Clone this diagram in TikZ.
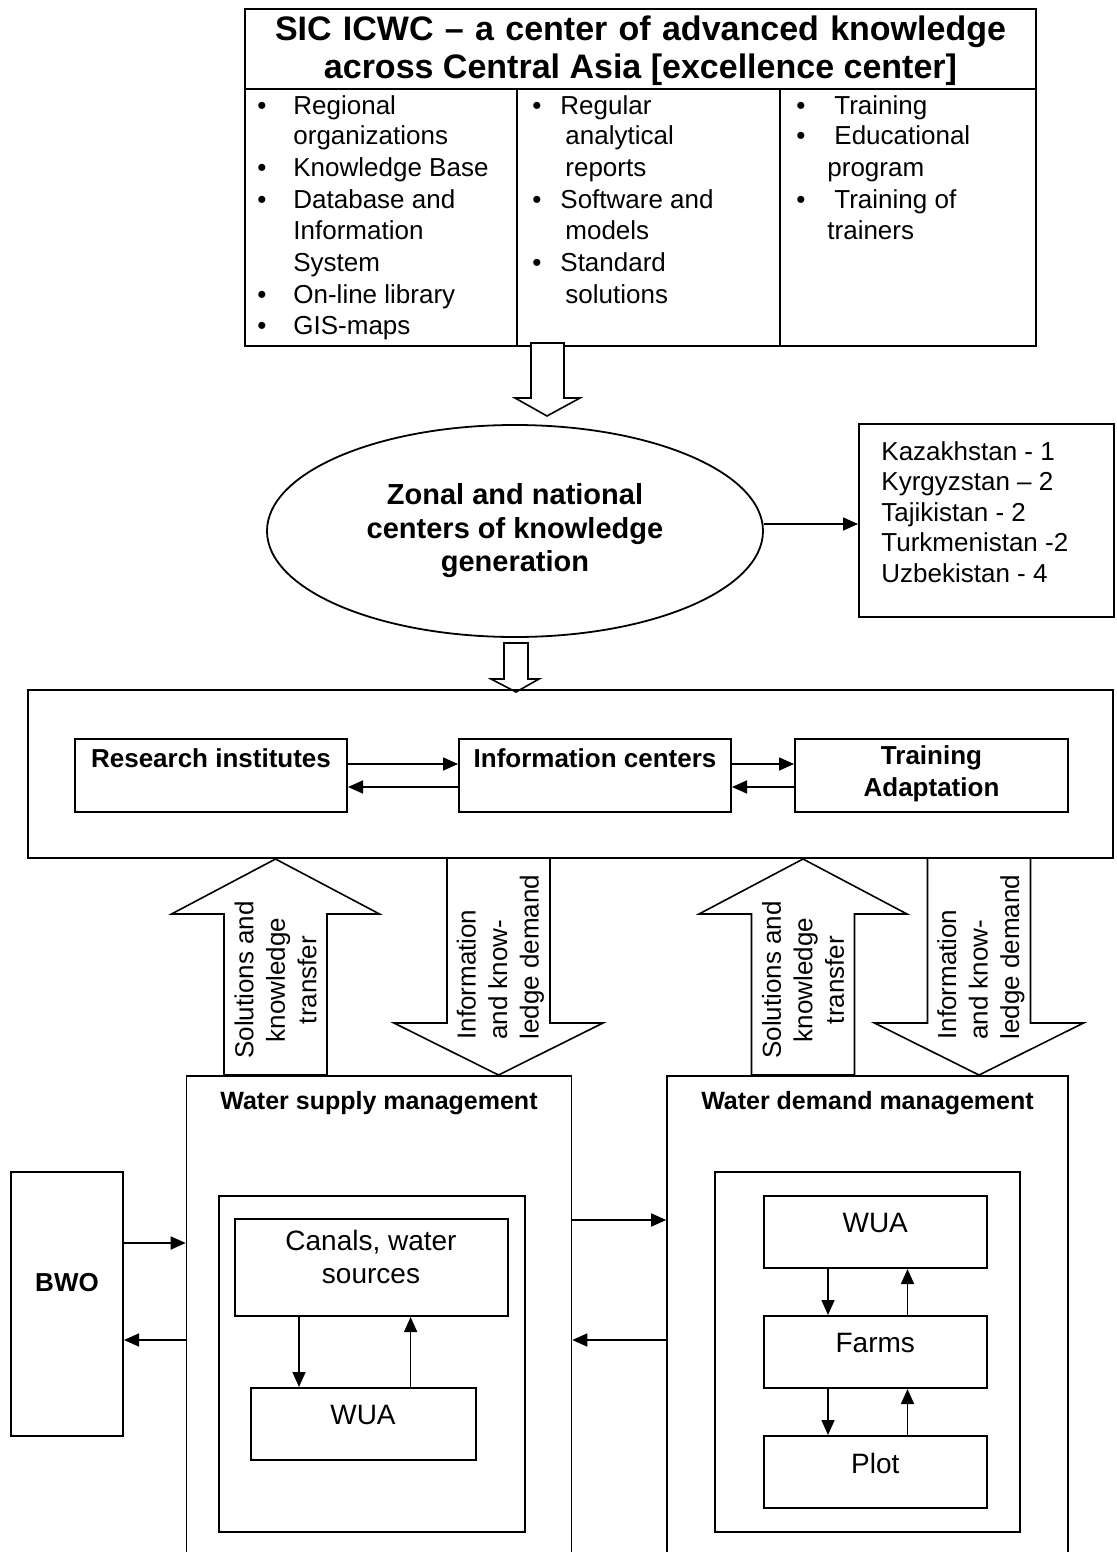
\documentclass[tikz,border=0pt]{standalone}
\usepackage{fontspec}
\setmainfont{Liberation Sans}
\usetikzlibrary{shapes.geometric,fit,arrows.meta}

\begin{document}
\begin{tikzpicture}[x=0.5pt,y=-0.5pt,
        % 方框样式: 边框颜色,线宽
        BoxNode/.style={draw, line width=1pt, inner sep=0pt},
        ThinBox/.style={draw, line width=0.8pt, inner sep=0pt},
        % 文字样式: 字号/行距
        TxtNode/.style={inner sep=0pt, font=\fontsize{13}{15.75}\selectfont},
        ListTxt/.style={inner sep=0pt, text height=9.3pt, text depth=2.7pt, font=\fontsize{13}{15.75}\selectfont},
        BoldTxt/.style={inner sep=0pt, font=\fontsize{13}{16}\selectfont\bfseries},
        HeadTxt/.style={inner sep=0pt, font=\fontsize{12.5}{15}\selectfont\bfseries},
        BigTxt/.style={inner sep=0pt, font=\fontsize{14}{16.5}\selectfont},
        TitleTxt/.style={inner sep=0pt, font=\fontsize{17}{19}\selectfont\bfseries},
        % 箭头样式
        Arr/.style={-{Triangle[length=7.5pt,width=6.5pt]}, line width=0.8pt},
        BlockArr/.style={draw, fill=white, line width=0.8pt}]

        % 画布大小
        \useasboundingbox (0,0) rectangle (1116,1552);
        \clip (0,0) rectangle (1116,1552);

        % 顶部方框: 标题 + 三列
        \node[BoxNode, fit={(245,9) (1036,346)}] (sic) {};
        \draw[line width=1pt] (sic.west |- 0,89) -- (sic.east |- 0,89);
        \foreach \x in {517,780}
            \draw[line width=1pt] (\x,89) -- (\x,346);
        \node[TitleTxt, align=center] (title) at (640.5,51)
            {\makebox[365.5pt][s]{SIC ICWC – a center of advanced knowledge}\\across Central Asia [excellence center]};

        % 第一列
        \foreach \y/\t [count=\i] in {108/Regional, 138/organizations, 170/Knowledge Base, 202/Database and,
            233/Information, 265/System, 297/On-line library, 328/GIS-maps}
            \node[ListTxt, anchor=west] (ca_\i) at (293,\y) {\t};
        % 第二列
        \foreach \x/\y/\t [count=\i] in {560/108/Regular, 565/138/analytical, 565/170/reports, 560/202/Software and,
            565/233/models, 560/265/Standard, 565/297/solutions}
            \node[ListTxt, anchor=west] (cb_\i) at (\x,\y) {\t};
        % 第三列
        \foreach \x/\y/\t [count=\i] in {834/108/Training, 834/138/Educational, 827/170/program,
            834/202/Training of, 827/233/trainers}
            \node[ListTxt, anchor=west] (cc_\i) at (\x,\y) {\t};
        % 项目符号
        \foreach \x/\y [count=\i] in {262/108, 262/170, 262/202, 262/297, 262/328,
            537/108, 537/202, 537/265, 801/108, 801/138, 801/202}
            \node[ListTxt] (dot_\i) at (\x,\y) {\textbullet};

        % 空心箭头
        \draw[BlockArr] (531,343) -- (531,398) -- (515,398) -- (547,416) -- (580,398) -- (564,398) -- (564,343) -- cycle;

        % 椭圆结点
        \node[draw, ellipse, line width=0.9pt, minimum width=248pt, minimum height=106pt, inner sep=0pt,
            align=center, font=\fontsize{14.5}{16.75}\selectfont\bfseries] (zone) at (515,531)
            {Zonal and national\\centers of knowledge\\generation};

        % 国家列表
        \node[BoxNode, fit={(859,424) (1114,617)}] (cty) {};
        \node[TxtNode, align=left, anchor=west, font=\fontsize{13}{15.2}\selectfont] (cty_t) at (881,512)
            {Kazakhstan - 1\\Kyrgyzstan – 2\\Tajikistan - 2\\Turkmenistan -2\\Uzbekistan - 4};
        \draw[Arr] ([yshift=3.5pt]zone.east) -- ([yshift=3.5pt]zone.east -| cty.west);

        \draw[BlockArr] (504,643) -- (504,679) -- (491,679) -- (516,692) -- (539,679) -- (528,679) -- (528,643) -- cycle;

        % 中间大框
        \node[BoxNode, fit={(28,690) (1113,858)}] (mid) {};
        \node[BoxNode, fit={(75,739) (347,812)}] (ri) {};
        \node[BoxNode, fit={(459,739) (731,812)}] (ic) {};
        \node[BoxNode, fit={(795,739) (1068,812)}] (ta) {};
        \node[BoldTxt] (ri_t) at (211,758) {Research institutes};
        \node[BoldTxt] (ic_t) at (595,758) {Information centers};
        \node[BoldTxt, align=center] (ta_t) at (931.5,774) {Training\\Adaptation};
        \draw[Arr] ([yshift=5.75pt]ri.east) -- ([yshift=5.75pt]ic.west);
        \draw[Arr] ([yshift=-5.75pt]ic.west) -- ([yshift=-5.75pt]ri.east);
        \draw[Arr] ([yshift=5.75pt]ic.east) -- ([yshift=5.75pt]ta.west);
        \draw[Arr] ([yshift=-5.75pt]ta.west) -- ([yshift=-5.75pt]ic.east);

        % 下部两个管理框
        \node[ThinBox, fit={(186.5,1076) (571.5,1570)}] (wsm) {};
        \node[ThinBox, fit={(667,1076) (1068,1570)}] (wdm) {};
        \node[HeadTxt] (wsm_t) at (379,1103) {Water supply management};
        \node[HeadTxt] (wdm_t) at (867.5,1103) {Water demand management};

        % 向上/向下的大箭头
        \foreach \c [count=\i] in {275.5,803}{
            \draw[BlockArr] ({\c-51.5},1075) -- ({\c-51.5},914) -- ({\c-104},914) -- (\c,859)
                -- ({\c+104},914) -- ({\c+51.5},914) -- ({\c+51.5},1075) -- cycle;
            \node[TxtNode, rotate=90, align=center] (up_\i) at (\c,980) {Solutions and\\knowledge\\transfer};
        }
        \foreach \c [count=\i] in {498.5,979}{
            \draw[BlockArr] ({\c-51.5},858) -- ({\c-51.5},1023) -- ({\c-104.5},1023) -- (\c,1075)
                -- ({\c+104.5},1023) -- ({\c+51.5},1023) -- ({\c+51.5},858) -- cycle;
            \node[TxtNode, rotate=90, anchor=west, align=left] (dn_\i) at ({\c+2},1040) {Information\\and know-\\ledge demand};
        }

        % 供水管理内部
        \node[BoxNode, fit={(218.5,1196) (524.5,1532)}] (wsm_in) {};
        \node[BoxNode, fit={(235,1219) (507.5,1316)}] (canal) {};
        \node[BigTxt, align=center] (canal_t) at (371,1257) {Canals, water\\sources};
        \node[BoxNode, fit={(250.5,1388) (475.5,1460)}] (wua_a) {};
        \node[BigTxt] (wua_a_t) at (363,1415) {WUA};
        \draw[Arr] (canal.south -| 299,0) -- (wua_a.north -| 299,0);
        \draw[Arr] (wua_a.north -| 410.6,0) -- (canal.south -| 410.6,0);

        % 需水管理内部
        \node[BoxNode, fit={(715,1172) (1020,1532)}] (wdm_in) {};
        \foreach \n/\t/\y in {wua_b/WUA/1196, farm/Farms/1316, plot/Plot/1436}{
            \node[BoxNode, fit={(763.5,\y) (987,{\y+72})}] (\n) {};
            \node[BigTxt] (\n_t) at (875.25,{\y+27}) {\t};
        }
        \foreach \a/\b in {wua_b/farm, farm/plot}{
            \draw[Arr] (\a.south -| 828,0) -- (\b.north -| 828,0);
            \draw[Arr] (\b.north -| 907.5,0) -- (\a.south -| 907.5,0);
        }

        % BWO
        \node[BoxNode, fit={(10.7,1172) (123,1436)}] (bwo) {};
        \node[BoldTxt] (bwo_t) at (67,1283) {BWO};
        \draw[Arr] (bwo.east |- 0,1243) -- (wsm.west |- 0,1243);
        \draw[Arr] (wsm.west |- 0,1340) -- (bwo.east |- 0,1340);
        \draw[Arr] (wsm.east |- 0,1220) -- (wdm.west |- 0,1220);
        \draw[Arr] (wdm.west |- 0,1340) -- (wsm.east |- 0,1340);
    \end{tikzpicture}
\end{document}
